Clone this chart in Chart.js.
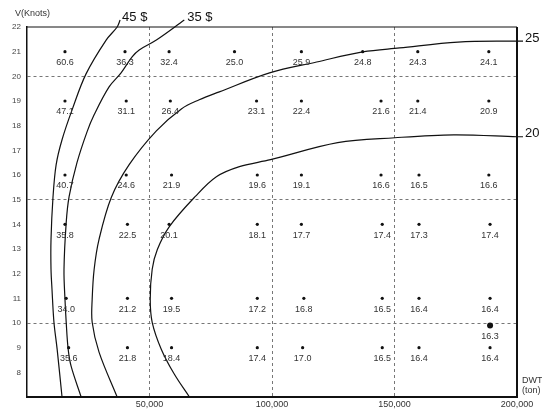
<!DOCTYPE html>
<html><head><meta charset="utf-8">
<script src="https://cdn.jsdelivr.net/npm/chart.js@4.4.0/dist/chart.umd.min.js"></script>
<style>html,body{margin:0;padding:0;background:#fff;}#wrap{width:542px;height:411px;}</style>
</head><body><div id="wrap"><canvas id="c" width="542" height="411"></canvas></div>
<script>
// ---- tick values / labels ----
const yTicks = [8,9,10,11,12,13,14,15,16,17,18,19,20,21,22];
const xTicks = [50000,100000,150000,200000];
const xTickLabels = ['50,000','100,000','150,000','200,000'];
const refX = [50000,100000,150000];
const refY = [10,15,20];

// ---- data points (DWT, speed V, printed value) ----
const pointDWT = [
  15500,40000,58000,84700,112000,137000,159500,188500,
  15500,40500,58500,93700,112000,144500,159500,188500,
  15500,40500,59000,94000,112000,144500,160000,188500,
  15500,41000,58000,94000,112000,145000,160000,189000,
  16000,41000,59000,94000,113000,145000,160000,189000,
  17000,41000,59000,94000,112500,145000,160000,189000
];
const pointV = [
  21,21,21,21,21,21,21,21,
  19,19,19,19,19,19,19,19,
  16,16,16,16,16,16,16,16,
  14,14,14,14,14,14,14,14,
  11,11,11,11,11,11,11,11,
  9,9,9,9,9,9,9,9
];
const pointLabel = [
  '60.6','36.3','32.4','25.0','25.9','24.8','24.3','24.1',
  '47.1','31.1','26.4','23.1','22.4','21.6','21.4','20.9',
  '40.7','24.6','21.9','19.6','19.1','16.6','16.5','16.6',
  '35.8','22.5','20.1','18.1','17.7','17.4','17.3','17.4',
  '34.0','21.2','19.5','17.2','16.8','16.5','16.4','16.4',
  '35.6','21.8','18.4','17.4','17.0','16.5','16.4','16.4'
];
const extraDWT = [189000];
const extraV = [9.9];
const extraLabel = ['16.3'];

// ---- contour curves ----
const curve45DWT = [38000,36800,32300,24100,18400,14300,11900,10600,9800,9800,10200,11000,12300,14300];
const curve45V   = [22.28,22,21.47,20.10,18.64,17.43,16.42,15.09,13.39,12.18,11.37,10.03,8.94,7.0];
const curve35DWT = [64200,52800,45800,42900,38400,33500,27400,24500,20400,17200,16000,15100,15500,16000,16800,18000,22100];
const curve35V   = [22.28,21.47,21.07,20.79,20.14,19.57,18.44,17.75,16.50,15.13,14.07,12.17,10.96,10.03,8.94,8.25,7.0];
const curve25DWT = [200000,175900,152100,137000,118200,99000,78500,70300,63000,52800,41700,34400,29400,27400,26600,26600,29400,36800];
const curve25V   = [21.43,21.39,21.15,20.99,20.58,20.14,19.37,19.05,18.68,17.79,16.42,15.09,13.39,12.17,10.96,10.03,8.82,7.0];
const curve20DWT = [200000,174200,150100,126800,99400,86700,77300,68700,58100,53200,51100,50300,51100,54800,60100,66300];
const curve20V   = [17.55,17.63,17.51,17.31,16.62,16.34,15.93,15.13,13.91,12.98,12.18,10.96,10.03,8.94,7.93,7.0];
const curveNames = ['45 $','35 $','25','20'];

const zip = (xs, ys) => xs.map((x,i)=>({x:x, y:ys[i]}));
const FONT = '"Liberation Sans", Arial, sans-serif';

function curveDS(xs, ys, name, clip){
  return {label:name, data:zip(xs,ys), showLine:true, pointRadius:0, borderColor:'#111',
          borderWidth:1.2, tension:0.35, clip: clip ? false : undefined, fill:false};
}

const labelPlugin = {
  id:'labels',
  afterDatasetsDraw(chart){
    const ctx = chart.ctx, a = chart.chartArea;
    ctx.save();
    // point value labels
    ctx.fillStyle = '#333';
    ctx.font = '9px ' + FONT;
    ctx.textAlign = 'center';
    ctx.textBaseline = 'middle';
    [[4,pointLabel],[5,extraLabel]].forEach(([di,labs])=>{
      chart.getDatasetMeta(di).data.forEach((el,i)=>{
        ctx.fillText(labs[i], el.x, el.y + 11);
      });
    });
    // curve labels
    ctx.fillStyle = '#111';
    ctx.font = '13px ' + FONT;
    ctx.textAlign = 'left';
    const m45 = chart.getDatasetMeta(0).data[0];
    ctx.fillText(curveNames[0], m45.x + 2, m45.y - 3);
    const m35 = chart.getDatasetMeta(1).data[0];
    ctx.fillText(curveNames[1], m35.x + 3, m35.y - 3);
    const m25 = chart.getDatasetMeta(2).data[0];
    ctx.fillText(curveNames[2], a.right + 8, m25.y - 3);
    const m20 = chart.getDatasetMeta(3).data[0];
    ctx.fillText(curveNames[3], a.right + 8, m20.y - 3);
    ctx.lineWidth = 1.2; ctx.strokeStyle = '#111';
    ctx.beginPath(); ctx.moveTo(a.right, m25.y); ctx.lineTo(a.right+6, m25.y);
    ctx.moveTo(a.right, m20.y); ctx.lineTo(a.right+6, m20.y); ctx.stroke();
    // axis titles
    ctx.font = '9px ' + FONT;
    ctx.fillStyle = '#333';
    ctx.textAlign = 'left';
    ctx.fillText('V(Knots)', 15, 14);
    ctx.fillText('DWT', a.right + 5, a.bottom - 16);
    ctx.fillText('(ton)', a.right + 5, a.bottom - 6);
    // frame
    ctx.strokeStyle = '#111';
    ctx.lineWidth = 1;
    ctx.beginPath(); ctx.moveTo(a.left, a.top); ctx.lineTo(a.right, a.top); ctx.stroke();
    ctx.lineWidth = 2;
    ctx.beginPath(); ctx.moveTo(a.right, a.top); ctx.lineTo(a.right, a.bottom); ctx.stroke();
    ctx.restore();
  }
};

new Chart(document.getElementById('c'), {
  type:'scatter',
  data:{datasets:[
    curveDS(curve45DWT, curve45V, curveNames[0], true),
    curveDS(curve35DWT, curve35V, curveNames[1], true),
    curveDS(curve25DWT, curve25V, curveNames[2], false),
    curveDS(curve20DWT, curve20V, curveNames[3], false),
    {label:'pts', data:zip(pointDWT,pointV), pointRadius:1.6, pointBackgroundColor:'#111', pointBorderWidth:0, showLine:false},
    {label:'extra', data:zip(extraDWT,extraV), pointRadius:3, pointBackgroundColor:'#111', pointBorderWidth:0, showLine:false}
  ]},
  options:{
    responsive:false, animation:false, devicePixelRatio:1,
    layout:{padding:{top:27,right:25,left:0,bottom:0}},
    plugins:{legend:{display:false}, tooltip:{enabled:false}},
    scales:{
      x:{type:'linear', min:0, max:200000,
         afterBuildTicks:s=>{ s.ticks = xTicks.map(v=>({value:v})); },
         afterFit:s=>{ s.height = 14; },
         ticks:{autoSkip:false, maxRotation:0, padding:2, color:'#333', font:{size:9, family:FONT},
                callback:(v)=>{ const i = xTicks.indexOf(v); return i>=0 ? xTickLabels[i] : ''; }},
         grid:{drawTicks:false, lineWidth:1, color:c=> (c.tick && refX.includes(c.tick.value)) ? '#777' : 'rgba(0,0,0,0)'},
         border:{display:true, color:'#111', width:2, dash:[3,3]}
      },
      y:{type:'linear', min:7, max:22,
         afterBuildTicks:s=>{ s.ticks = yTicks.map(v=>({value:v})); },
         afterFit:s=>{ s.width = 27; },
         ticks:{autoSkip:false, padding:6, color:'#444', font:{size:8, family:FONT},
                callback:(v)=> String(v)},
         grid:{drawTicks:false, lineWidth:1, color:c=> (c.tick && refY.includes(c.tick.value)) ? '#777' : 'rgba(0,0,0,0)'},
         border:{display:true, color:'#111', width:1.5, dash:[3,3]}
      }
    }
  },
  plugins:[labelPlugin]
});
</script>
</body></html>
